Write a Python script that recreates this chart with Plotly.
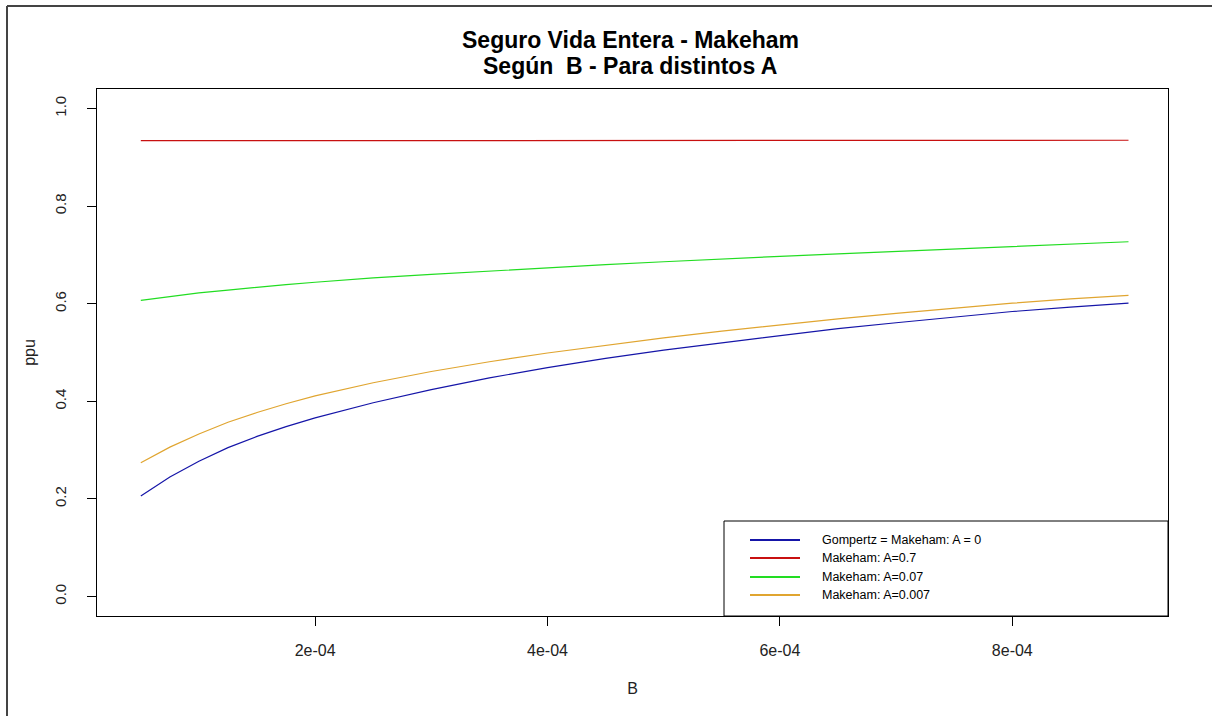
import plotly.graph_objects as go

# ---- data ----
B = [5e-5, 7.5e-5, 1e-4, 1.25e-4, 1.5e-4, 1.75e-4, 2e-4,
     2.5e-4, 3e-4, 3.5e-4, 4e-4, 4.5e-4, 5e-4, 5.5e-4, 6e-4, 6.5e-4, 7e-4,
     7.5e-4, 8e-4, 8.5e-4, 9e-4]
gompertz_A0 = [0.206, 0.245, 0.277, 0.305, 0.328, 0.348, 0.366,
               0.397, 0.424, 0.448, 0.469, 0.488, 0.505, 0.520, 0.535, 0.549, 0.561,
               0.573, 0.584, 0.593, 0.601]
makeham_A07 = [0.934, 0.934, 0.934, 0.934, 0.934, 0.934, 0.935,
               0.935, 0.935, 0.935, 0.935, 0.935, 0.935, 0.935, 0.935, 0.935, 0.935,
               0.935, 0.935, 0.935, 0.935]
makeham_A007 = [0.607, 0.615, 0.622, 0.628, 0.634, 0.639, 0.644,
                0.653, 0.660, 0.667, 0.674, 0.680, 0.686, 0.692, 0.697, 0.702, 0.707,
                0.712, 0.717, 0.722, 0.727]
makeham_A0007 = [0.274, 0.306, 0.333, 0.357, 0.377, 0.395, 0.411,
                 0.438, 0.461, 0.481, 0.499, 0.515, 0.530, 0.544, 0.557, 0.569, 0.580,
                 0.591, 0.601, 0.610, 0.617]

series_names = ["Gompertz = Makeham: A = 0", "Makeham: A=0.7",
                "Makeham: A=0.07", "Makeham: A=0.007"]
series_values = [gompertz_A0, makeham_A07, makeham_A007, makeham_A0007]
series_colors = ["#1515A8", "#C81010", "#22DD22", "#E0A530"]

title_lines = ["Seguro Vida Entera - Makeham", "Según\u00a0 B - Para distintos A"]

x_tick_vals = [2e-4, 4e-4, 6e-4, 8e-4]
x_tick_text = ["2e-04", "4e-04", "6e-04", "8e-04"]
y_tick_vals = [0.0, 0.2, 0.4, 0.6, 0.8, 1.0]
y_tick_text = ["0.0", "0.2", "0.4", "0.6", "0.8", "1.0"]

FONT = "Liberation Sans, Arial, sans-serif"

fig = go.Figure()
for name, vals, col in zip(series_names, series_values, series_colors):
    fig.add_trace(go.Scatter(x=B, y=vals, mode="lines", name=name,
                             line=dict(color=col, width=1.2), showlegend=False))

# plot area in pixels: x 97..1168, y 89..616
W, H = 1212, 716
L, R, T, Bm = 97, 1212 - 1168, 89, 716 - 616
pw, ph = W - L - R, H - T - Bm

def px_x(p):
    return (p - L) / pw

def px_y(p):
    return (H - Bm - p) / ph

shapes = []
# outer frame (top, left)
shapes.append(dict(type="line", xref="paper", yref="paper", x0=px_x(7), x1=px_x(1215),
                   y0=px_y(6), y1=px_y(6), line=dict(color="#444", width=2)))
shapes.append(dict(type="line", xref="paper", yref="paper", x0=px_x(7), x1=px_x(7),
                   y0=px_y(6), y1=px_y(720), line=dict(color="#444", width=2)))
# legend box
shapes.append(dict(type="rect", xref="paper", yref="paper", x0=px_x(724), x1=1.0,
                   y0=0.0, y1=px_y(521), line=dict(color="black", width=1),
                   fillcolor="white", layer="above"))
annotations = []
rows = [540, 558, 577, 595]
for name, col, ry in zip(series_names, series_colors, rows):
    shapes.append(dict(type="line", xref="paper", yref="paper", x0=px_x(750), x1=px_x(800),
                       y0=px_y(ry), y1=px_y(ry), line=dict(color=col, width=2), layer="above"))
    annotations.append(dict(xref="paper", yref="paper", x=px_x(820), y=px_y(ry),
                            text=name, showarrow=False, xanchor="left", yanchor="middle",
                            font=dict(family=FONT, size=12.5, color="black")))
# title (two lines, R-like spacing)
for txt, ty in zip(title_lines, [40, 66]):
    annotations.append(dict(xref="paper", yref="paper", x=px_x(630), y=px_y(ty),
                            text="<b>" + txt + "</b>", showarrow=False,
                            xanchor="center", yanchor="middle",
                            font=dict(family=FONT, size=23, color="black")))

fig.update_layout(
    width=W, height=H,
    margin=dict(l=L, r=R, t=T, b=Bm),
    paper_bgcolor="white", plot_bgcolor="white",
    font=dict(family=FONT, size=13, color="#222"),
    shapes=shapes, annotations=annotations,
)
fig.update_xaxes(range=[1.23e-5, 9.34e-4], tickvals=x_tick_vals, ticktext=x_tick_text,
                 showgrid=False, zeroline=False, showline=True, mirror=True,
                 linecolor="black", linewidth=1, ticks="outside", ticklen=9,
                 tickcolor="black", ticklabelstandoff=11, tickfont=dict(size=16),
                 title=dict(text="B", standoff=24, font=dict(size=16)))
fig.update_yaxes(range=[-0.04, 1.04], tickvals=y_tick_vals, ticktext=y_tick_text,
                 showgrid=False, zeroline=False, showline=True, mirror=True,
                 linecolor="black", linewidth=1, ticks="outside", ticklen=9,
                 tickcolor="black", tickangle=-90, ticklabelstandoff=15,
                 tickfont=dict(size=15),
                 title=dict(text="ppu", standoff=12, font=dict(size=16)))

fig.write_html("out.html", config={"displayModeBar": False},
               post_script="document.body.style.margin='0';")
